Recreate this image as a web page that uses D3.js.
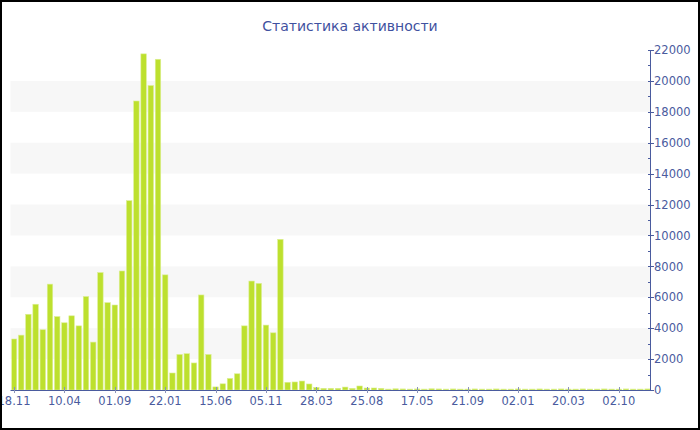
<!DOCTYPE html>
<html>
<head>
<meta charset="utf-8">
<script src="https://cdn.jsdelivr.net/npm/d3@7"></script>
<style>
  html, body { margin: 0; padding: 0; background: #fff; }
  svg { display: block; }
</style>
</head>
<body>
<svg id="chart" width="700" height="430"></svg>
<script>
const title = "Статистика активности";
const values = [3300, 3550, 4900, 5550, 3900, 6850, 4750, 4350, 4800, 4150,
  6050, 3100, 7600, 5650, 5500, 7700, 12250, 18700, 21750, 19700,
  21400, 7450, 1100, 2300, 2350, 1750, 6150, 2300, 200, 400,
  750, 1050, 4150, 7050, 6900, 4200, 3700, 9750, 500, 520,
  580, 390, 170, 110, 110, 110, 190, 110, 260, 130,
  130, 110, 60, 80, 70, 60, 70, 60, 80, 70,
  60, 70, 60, 60, 70, 60, 60, 70, 60, 60,
  70, 60, 60, 70, 60, 60, 70, 60, 60, 70,
  60, 60, 70, 60, 60, 70, 60, 60, 70];
const tickLabels = ["18.11", "10.04", "01.09", "22.01", "15.06", "05.11", "28.03",
  "25.08", "17.05", "21.09", "02.01", "20.03", "02.10"];
const tickEvery = 7;
const yTicks = [0, 2000, 4000, 6000, 8000, 10000, 12000, 14000, 16000, 18000, 20000, 22000];

const W = 700, H = 430;
const plot = { left: 10.5, right: 650, top: 50, bottom: 390 };
const blue = "#4a5b9e";

const svg = d3.select("#chart");

const idx = values.map((d, i) => i);
const x = d3.scaleBand().domain(idx).range([10.4, 651.2]).paddingInner(0.24).paddingOuter(0.12);
const y = d3.scaleLinear().domain([0, 22000]).range([plot.bottom, plot.top]);

svg.append("rect").attr("x", 0).attr("y", 0).attr("width", W).attr("height", H).attr("fill", "#fff");

const bands = [];
for (let i = 0; i < yTicks.length - 1; i++) if (i % 2 === 1) bands.push([yTicks[i], yTicks[i + 1]]);
svg.append("g").selectAll("rect").data(bands).join("rect")
  .attr("x", plot.left).attr("width", plot.right - plot.left)
  .attr("y", d => y(d[1])).attr("height", d => y(d[0]) - y(d[1]))
  .attr("fill", "#f7f7f7");

svg.append("clipPath").attr("id", "clip").append("rect")
  .attr("x", 11.5).attr("y", 0).attr("width", plot.right - 11.5).attr("height", plot.bottom);

svg.append("g").attr("clip-path", "url(#clip)").selectAll("rect").data(values).join("rect")
  .attr("x", (d, i) => x(i))
  .attr("width", x.bandwidth())
  .attr("y", d => y(d))
  .attr("height", d => y(0) - y(d))
  .attr("fill", "#bde02e")
  .attr("stroke", "#dcef96")
  .attr("stroke-width", 0.6);

const xg = svg.append("g");
xg.append("line").attr("x1", plot.left).attr("x2", plot.right).attr("y1", plot.bottom + 0.5).attr("y2", plot.bottom + 0.5)
  .attr("stroke", blue).attr("stroke-width", 1);
const xt = tickLabels.map((lab, k) => ({ lab, i: k * tickEvery }));
xg.selectAll("line.t").data(xt).join("line").attr("class", "t")
  .attr("x1", d => Math.round(x(d.i) + x.bandwidth() / 2) + 0.5)
  .attr("x2", d => Math.round(x(d.i) + x.bandwidth() / 2) + 0.5)
  .attr("y1", plot.bottom - 3).attr("y2", plot.bottom + 3)
  .attr("stroke", "#8a93b8").attr("stroke-width", 1);
xg.selectAll("text").data(xt).join("text")
  .attr("x", d => x(d.i) + x.bandwidth() / 2)
  .attr("y", 405)
  .attr("text-anchor", "middle")
  .attr("font-family", "DejaVu Sans, Verdana, sans-serif")
  .attr("font-size", 11.5)
  .attr("fill", blue)
  .text(d => d.lab);

const yg = svg.append("g");
yg.append("line").attr("x1", plot.right + 0.5).attr("x2", plot.right + 0.5)
  .attr("y1", plot.top).attr("y2", plot.bottom + 1)
  .attr("stroke", blue).attr("stroke-width", 1);
const minor = d3.range(1000, 22000, 2000);
yg.selectAll("line.mi").data(minor).join("line").attr("class", "mi")
  .attr("x1", plot.right - 2).attr("x2", plot.right + 0.5)
  .attr("y1", d => Math.round(y(d)) + 0.5).attr("y2", d => Math.round(y(d)) + 0.5)
  .attr("stroke", blue).attr("stroke-width", 1);
yg.selectAll("line.ma").data(yTicks).join("line").attr("class", "ma")
  .attr("x1", plot.right - 2).attr("x2", plot.right + 4)
  .attr("y1", d => Math.round(y(d)) + 0.5).attr("y2", d => Math.round(y(d)) + 0.5)
  .attr("stroke", blue).attr("stroke-width", 1);
yg.selectAll("text").data(yTicks).join("text")
  .attr("x", plot.right + 4)
  .attr("y", d => y(d))
  .attr("dy", "0.36em")
  .attr("font-family", "DejaVu Sans, Verdana, sans-serif")
  .attr("font-size", 11.5)
  .attr("fill", blue)
  .text(d => d);

svg.append("text").attr("x", 350).attr("y", 31).attr("text-anchor", "middle")
  .attr("font-family", "DejaVu Sans, Verdana, sans-serif")
  .attr("font-size", 14)
  .attr("fill", "#3f51a0")
  .text(title);

svg.append("rect").attr("x", 1).attr("y", 1).attr("width", W - 2).attr("height", H - 2)
  .attr("fill", "none").attr("stroke", "#000").attr("stroke-width", 2);
</script>
</body>
</html>
